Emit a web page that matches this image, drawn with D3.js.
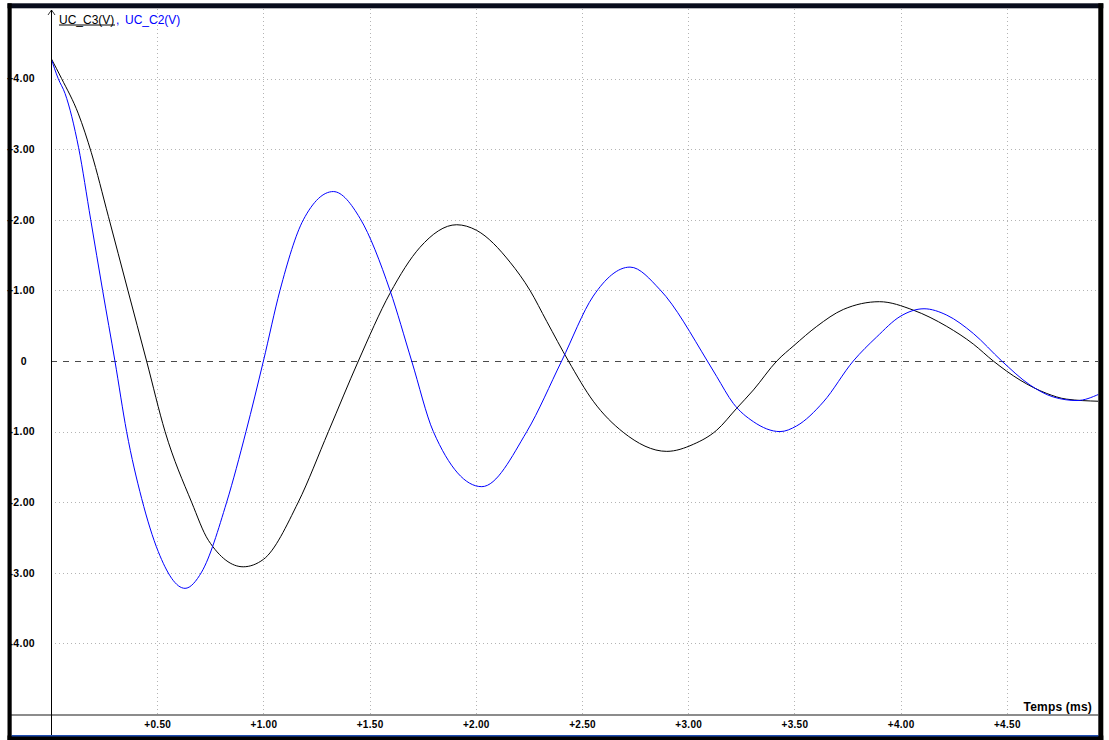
<!DOCTYPE html>
<html><head><meta charset="utf-8">
<script src="https://cdn.jsdelivr.net/npm/d3@7"></script>
<style>html,body{margin:0;padding:0;background:#fff;} svg{display:block;}</style>
</head><body>
<svg id="chart" width="1109" height="740"></svg>
<script>
// ---- data ----
const seriesNames = ["UC_C3(V)", "UC_C2(V)"];
const xAxisTitle = "Temps (ms)";

const c3Time = [0, 0.05, 0.129, 0.19, 0.27, 0.362, 0.45, 0.537, 0.662, 0.741, 0.905, 1.0, 1.164, 1.306, 1.447, 1.596, 1.737, 1.91, 2.004, 2.161, 2.255, 2.334, 2.436, 2.553, 2.694, 2.899, 3.024, 3.134, 3.228, 3.307, 3.417, 3.498, 3.605, 3.73, 3.90, 4.06, 4.217, 4.342, 4.436, 4.562, 4.688, 4.78, 4.93];
const c3Volt = [4.29, 4.0, 3.5, 2.95, 2.05, 1.0, 0, -1.0, -2.0, -2.54, -2.915, -2.81, -2.0, -1.0, 0, 0.96, 1.61, 1.93, 1.85, 1.4, 1.0, 0.56, 0, -0.57, -1.01, -1.28, -1.18, -0.98, -0.67, -0.41, 0, 0.22, 0.49, 0.73, 0.84, 0.72, 0.49, 0.24, 0, -0.27, -0.46, -0.54, -0.57];

const c2Time = [0, 0.034, 0.066, 0.13, 0.187, 0.243, 0.301, 0.356, 0.427, 0.505, 0.631, 0.709, 0.827, 0.918, 1.0, 1.078, 1.188, 1.329, 1.455, 1.596, 1.698, 1.8, 2.028, 2.24, 2.404, 2.553, 2.726, 2.867, 3.09, 3.134, 3.212, 3.307, 3.432, 3.51, 3.636, 3.777, 3.887, 3.997, 4.11, 4.217, 4.342, 4.476, 4.609, 4.719, 4.83, 4.934];
const c2Volt = [4.29, 4.0, 3.79, 3.02, 2.0, 1.0, 0, -1.0, -1.95, -2.7, -3.22, -2.99, -2.0, -1.0, 0, 1.0, 2.0, 2.40, 2.02, 1.0, 0, -1.0, -1.78, -1.0, 0, 0.92, 1.33, 1.01, 0, -0.22, -0.6, -0.86, -1.0, -0.92, -0.58, 0, 0.34, 0.63, 0.74, 0.65, 0.39, 0, -0.34, -0.51, -0.56, -0.47];

const xTicks = [0.5, 1.0, 1.5, 2.0, 2.5, 3.0, 3.5, 4.0, 4.5];
const xTickLabels = ["+0.50", "+1.00", "+1.50", "+2.00", "+2.50", "+3.00", "+3.50", "+4.00", "+4.50"];
const yTicks = [4, 3, 2, 1, 0, -1, -2, -3, -4];
const yTickLabels = ["+4.00", "+3.00", "+2.00", "+1.00", "0", "-1.00", "-2.00", "-3.00", "-4.00"];

// ---- drawing ----
const svg = d3.select("#chart");
const L = 51, R = 1098.2, T = 8, B = 714;
const x = d3.scaleLinear().domain([0, 4.93]).range([L, R]);
const y = d3.scaleLinear().domain([-4, 4]).range([643.4, 78.6]);

svg.append("rect").attr("width", 1109).attr("height", 740).attr("fill", "#fff");

// horizontal dotted grid
const gy = svg.append("g").attr("transform", `translate(${L},0)`)
  .call(d3.axisRight(y).tickValues(yTicks.filter(d => d !== 0)).tickSize(R - L).tickFormat(""));
gy.select(".domain").remove();
gy.selectAll("line").attr("stroke", "#b4b4b4").attr("stroke-dasharray", "1,3").attr("shape-rendering", "crispEdges");

// vertical dotted grid
const gx = svg.append("g").attr("transform", `translate(0,${B})`)
  .call(d3.axisTop(x).tickValues(xTicks).tickSize(B - T).tickFormat(""));
gx.select(".domain").remove();
gx.selectAll("line").attr("stroke", "#b4b4b4").attr("stroke-dasharray", "1,3").attr("shape-rendering", "crispEdges");

// zero dashed line
svg.append("line").attr("x1", L).attr("x2", R).attr("y1", y(0)).attr("y2", y(0))
  .attr("stroke", "#4a4a4a").attr("stroke-width", 1).attr("stroke-dasharray", "6,6")
  .attr("shape-rendering", "crispEdges");

// curves
svg.append("clipPath").attr("id", "plotclip").append("rect")
  .attr("x", L).attr("y", T).attr("width", R - L).attr("height", B - T);
const line = d3.line().x(d => x(d[0])).y(d => y(d[1])).curve(d3.curveMonotoneX);
const c3 = c3Time.map((t, i) => [t, c3Volt[i]]);
const c2 = c2Time.map((t, i) => [t, c2Volt[i]]);
const plot = svg.append("g").attr("clip-path", "url(#plotclip)");
plot.append("path").datum(c3).attr("d", line).attr("fill", "none").attr("stroke", "#000").attr("stroke-width", 1);
plot.append("path").datum(c2).attr("d", line).attr("fill", "none").attr("stroke", "#0000ff").attr("stroke-width", 1);

// separator for x labels
svg.append("rect").attr("x", 11).attr("y", B).attr("width", R - 11).attr("height", 2).attr("fill", "#8c8c8c");

// y axis line + arrow
svg.append("line").attr("x1", L + 0.5).attr("x2", L + 0.5).attr("y1", 10).attr("y2", 736)
  .attr("stroke", "#000").attr("stroke-width", 1);
svg.append("path").attr("d", `M${L - 3},15 L${L + 0.5},10 L${L + 4},15`)
  .attr("fill", "none").attr("stroke", "#000").attr("stroke-width", 0.8);

// y tick labels
const ya = svg.append("g").attr("transform", "translate(35,0)")
  .call(d3.axisLeft(y).tickValues(yTicks).tickSize(0).tickPadding(0).tickFormat((d, i) => yTickLabels[i]));
ya.select(".domain").remove();
ya.selectAll("text").attr("font-family", "'Liberation Sans', Arial, sans-serif").attr("font-weight", "bold")
  .attr("font-size", 10.5).attr("fill", "#000").attr("letter-spacing", 0.3);
ya.selectAll("text").filter(d => d === 0).attr("x", -8);

// x tick labels
const xa = svg.append("g").attr("transform", "translate(0,720.5)")
  .call(d3.axisBottom(x).tickValues(xTicks).tickSize(0).tickPadding(0).tickFormat((d, i) => xTickLabels[i]));
xa.select(".domain").remove();
xa.selectAll("text").attr("font-family", "'Liberation Sans', Arial, sans-serif").attr("font-weight", "bold")
  .attr("font-size", 10).attr("fill", "#000").attr("letter-spacing", 0.3);

// x axis title
svg.append("text").attr("x", 1092).attr("y", 710.5).attr("text-anchor", "end")
  .attr("font-family", "'Liberation Sans', Arial, sans-serif").attr("font-weight", "bold")
  .attr("font-size", 12).attr("letter-spacing", 0.2).text(xAxisTitle);

// legend
const lg = svg.append("g").attr("font-family", "'Liberation Sans', Arial, sans-serif").attr("font-size", 12);
lg.append("text").attr("x", 59).attr("y", 23.5).attr("fill", "#000").text(seriesNames[0]);
lg.append("line").attr("x1", 59).attr("x2", 115).attr("y1", 25).attr("y2", 25).attr("stroke", "#000").attr("stroke-width", 1);
lg.append("text").attr("x", 116).attr("y", 23.5).attr("fill", "#0000ff").text(",");
lg.append("text").attr("x", 125).attr("y", 23.5).attr("fill", "#0000ff").text(seriesNames[1]);

// frame
svg.append("rect").attr("x", 7.5).attr("y", 3.3).attr("width", 1103.3 - 7.5).attr("height", 5).attr("fill", "#080c1c");
svg.append("rect").attr("x", 7.5).attr("y", 3.3).attr("width", 4.2).attr("height", 740 - 3.3).attr("fill", "#000");
svg.append("rect").attr("x", 1098.3).attr("y", 3.3).attr("width", 5).attr("height", 740 - 3.3).attr("fill", "#000");
svg.append("rect").attr("x", 7.5).attr("y", 735.5).attr("width", 1103.3 - 7.5).attr("height", 4.5).attr("fill", "#000");
svg.append("rect").attr("x", 11.7).attr("y", 735).attr("width", 1098.3 - 11.7).attr("height", 1.5).attr("fill", "#1e4cb0");
</script>
</body></html>
